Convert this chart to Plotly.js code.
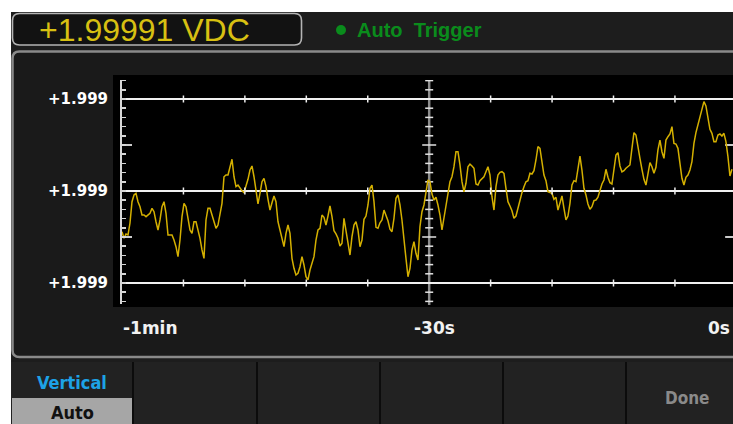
<!DOCTYPE html>
<html><head><meta charset="utf-8">
<script src="https://cdn.plot.ly/plotly-3.0.1.min.js"></script>
<style>html,body{margin:0;padding:0;background:#fff;overflow:hidden}#chart{width:733px;height:424px}</style>
</head><body><div id="chart"></div>
<script>
// ---- data ----
const readoutText = '+1.99991 VDC';
const triggerText = 'Auto\u00a0 Trigger';
const baseVolts = 1.9999;            // readings are stored as offsets above this, in microvolts
const samplePeriodS = 0.1953;        // time between stored samples
const startTimeS = -60;
const offsetMicroVolts = [
 0.58,-0.14,0.33,0.22,1.52,3.84,4.57,4.75,3.84,3.29,2.39,2.39,2.21,2.39,2.58,3.12,2.75,1.66,0.76,1.85,
 3.29,3.84,2.58,0.22,0.22,0.22,-0.33,-1.05,-2.14,-0.33,2.21,3.66,3.29,2.03,0.76,0.40,1.66,1.66,0.76,-0.14,
 -1.41,-2.32,1.85,3.12,3.12,2.39,1.66,0.95,1.30,2.39,
 3.66,6.55,6.74,6.74,7.64,8.45,6.55,5.47,5.65,5.29,5.03,4.82,5.47,6.27,7.28,7.72,6.55,4.75,3.59,4.75,
 6.01,6.38,5.47,4.10,2.93,3.73,4.46,3.84,1.66,0.76,-0.33,-1.05,0.40,1.30,0.40,-2.32,-3.40,-4.13,-3.95,-3.23,
 -2.14,-3.04,-4.32,-4.67,-3.59,-2.79,-2.14,-0.33,0.76,0.95,2.39,
 2.14,1.30,2.28,3.37,2.21,0.68,0.33,-0.14,-0.98,-0.68,2.03,0.76,-0.87,-1.96,0.03,1.30,1.66,0.76,-1.05,-0.33,
 1.92,2.28,3.48,5.29,5.65,3.84,1.05,0.95,1.55,1.85,2.93,2.39,1.77,0.84,0.58,2.03,4.21,4.57,3.48,1.85,
 -0.68,-2.32,-4.32,-3.40,-1.41,-0.51,-1.77,-2.50,1.12,2.75,3.48,
 5.11,6.20,6.01,4.67,4.02,4.32,3.48,2.39,0.76,2.21,3.48,4.75,6.01,6.55,7.64,9.27,9.27,7.83,6.01,4.92,
 5.84,7.64,7.93,7.72,7.47,5.76,5.65,6.12,6.38,6.55,7.10,7.64,6.74,4.38,2.93,5.47,6.74,7.03,7.10,6.92,
 5.29,3.84,3.37,2.86,2.03,2.28,3.12,4.02,4.82,5.47,6.01,
 6.12,6.92,6.85,7.21,8.37,9.82,9.64,8.18,6.74,6.12,4.92,4.82,4.75,4.10,4.32,2.93,3.84,4.46,3.12,1.85,
 2.28,3.66,5.65,6.12,6.01,7.64,8.80,7.28,5.29,4.57,3.59,3.01,3.29,3.95,4.02,4.32,5.11,5.76,6.20,7.36,
 6.49,5.90,5.76,7.28,8.91,9.16,7.72,7.07,7.21,7.47,7.64,7.83,
 9.64,11.34,11.09,9.64,8.55,7.36,6.27,5.65,6.92,8.08,7.64,6.92,7.58,9.46,10.54,9.27,8.55,10.54,10.90,11.20,
 11.99,10.18,10.11,9.64,8.01,6.38,5.65,6.49,6.74,7.28,8.18,10.18,11.34,12.17,12.79,13.62,14.71,14.24,13.08,11.71,
 11.27,10.36,10.36,11.09,11.20,10.98,11.27,10.36,8.73,6.63,7.36
];
const yGridOffsets = [-5, 5, 15];               // µV above baseVolts
const yTickLabels = ['+1.999', '+1.999', '+1.999'];
const yMidTickOffsets = [0, 10];
const xLabelTexts = ['-1min', '-30s', '0s'];
const gridMarkTimes = [-54, -48, -42, -36, -24, -18, -12, -6];
const softkeyTitle = 'Vertical';
const softkeyValue = 'Auto';
const doneText = 'Done';

// ---- build ----
const W = 733, H = 424;
const X = p => p / W, Y = p => 1 - p / H;
const uv = o => baseVolts + o * 1e-6;

const times = offsetMicroVolts.map((_, i) => startTimeS + i * samplePeriodS);
const volts = offsetMicroVolts.map(uv);

function roundRect(x0, y0, x1, y1, r) {
  const rx = r / W, ry = r / H;
  const a = X(x0), b = X(x1), c = Y(y0), d = Y(y1);
  return `M${a+rx},${c} L${b-rx},${c} Q${b},${c} ${b},${c-ry} L${b},${d+ry} Q${b},${d} ${b-rx},${d} ` +
         `L${a+rx},${d} Q${a},${d} ${a},${d+ry} L${a},${c-ry} Q${a},${c} ${a+rx},${c} Z`;
}
const prect = (x0, y0, x1, y1, fill) => ({type:'rect', xref:'paper', yref:'paper', layer:'below',
  x0:X(x0), x1:X(x1), y0:Y(y1), y1:Y(y0), fillcolor:fill, line:{width:0}});

const shapes = [];
shapes.push(prect(11, 12, 733, 424, '#1d1d1d'));
shapes.push({type:'path', xref:'paper', yref:'paper', layer:'below', path:roundRect(12.5, 13.5, 301.5, 45, 7),
  fillcolor:'#121212', line:{color:'#b4b4b4', width:1.6}});
shapes.push({type:'path', xref:'paper', yref:'paper', layer:'below', path:roundRect(12.5, 51.5, 745, 357, 7),
  fillcolor:'#1a1a1a', line:{color:'#8a8a8a', width:2.5}});
shapes.push(prect(113, 75, 733, 307, '#000000'));
shapes.push(prect(11, 362, 733, 424, '#222222'));
[133, 257, 380, 503, 626].forEach(x => shapes.push({type:'line', xref:'paper', yref:'paper', layer:'below',
  x0:X(x), x1:X(x), y0:Y(362), y1:0, line:{color:'#0c0c0c', width:2}}));
shapes.push(prect(12, 398, 132, 424, '#a6a6a6'));
shapes.push({type:'circle', xref:'paper', yref:'paper', layer:'below', x0:X(336), x1:X(346), y0:Y(35), y1:Y(25),
  fillcolor:'#0a8c1c', line:{width:0}});

// centre (-30 s) reference line with its ticks
shapes.push({type:'line', xref:'x', yref:'paper', layer:'below', x0:-30, x1:-30, y0:Y(305), y1:Y(80),
  line:{color:'#8c8c8c', width:2.5}});
const minorVals = [];
for (let k = -7; k <= 17; k++) minorVals.push(k);
minorVals.forEach(k => {
  const mid = yMidTickOffsets.includes(k);
  const len = mid ? 7 : 4;
  shapes.push({type:'line', xref:'x', xsizemode:'pixel', xanchor:-30, x0:-len, x1:len,
    yref:'y', y0:uv(k), y1:uv(k), layer:'below', line:{color:'#e2e2e2', width:1.5}});
});
yMidTickOffsets.forEach(k => {
  shapes.push({type:'line', xref:'x', xsizemode:'pixel', xanchor:-60, x0:0, x1:10,
    yref:'y', y0:uv(k), y1:uv(k), layer:'below', line:{color:'#e2e2e2', width:1.8}});
  shapes.push({type:'line', xref:'x', xsizemode:'pixel', xanchor:-1, x0:-1, x1:10,
    yref:'y', y0:uv(k), y1:uv(k), layer:'below', line:{color:'#e2e2e2', width:1.8}});
});
gridMarkTimes.forEach(t => yGridOffsets.forEach(g => {
  shapes.push({type:'line', xref:'x', x0:t, x1:t, yref:'y', ysizemode:'pixel', yanchor:uv(g), y0:-3.5, y1:3.5,
    layer:'above', line:{color:'#eeeeee', width:1.5}});
}));

const ann = (text, x, y, xanchor, font) => ({text, x:X(x), y:Y(y), xref:'paper', yref:'paper',
  xanchor, yanchor:'middle', showarrow:false, font});
const labelFont = {family:'DejaVu Sans', size:17, color:'#f2f2f2', weight:'bold'};
const annotations = [
  ann(readoutText, 37, 30, 'left', {family:'Liberation Sans, Arial', size:32, color:'#d8c012'}),
  ann(triggerText, 355, 30, 'left', {family:'Liberation Sans, Arial', size:20, color:'#0a8c1c', weight:'bold'}),
  ann(softkeyTitle, 72, 382, 'center', {family:'DejaVu Sans Condensed, DejaVu Sans', size:18, color:'#1da2e6', weight:'bold'}),
  ann(softkeyValue, 72, 412, 'center', {family:'DejaVu Sans Condensed, DejaVu Sans', size:18, color:'#111111', weight:'bold'}),
  ann(doneText, 687, 398, 'center', {family:'DejaVu Sans Condensed, DejaVu Sans', size:17, color:'#8a8a8a', weight:'bold'}),
  ann(xLabelTexts[0], 121, 328, 'left', labelFont),
  ann(xLabelTexts[1], 435, 328, 'center', labelFont),
  ann(xLabelTexts[2], 732, 328, 'right', labelFont)
];

const trace = {x:times, y:volts, type:'scatter', mode:'lines',
  line:{color:'#d4b000', width:1.5}, hoverinfo:'skip'};

const layout = {
  width:W, height:H, margin:{l:0, r:0, t:0, b:0, pad:0},
  paper_bgcolor:'#ffffff', plot_bgcolor:'rgba(0,0,0,0)', showlegend:false,
  xaxis:{domain:[122/W, 1], range:[-60, -0.33], showgrid:false, zeroline:false, showline:false,
    showticklabels:false, ticks:''},
  yaxis:{domain:[Y(304), Y(80)], range:[uv(-7.283), uv(17.065)], tickmode:'array',
    tickvals:yGridOffsets.map(uv), ticktext:yTickLabels, showgrid:true, gridcolor:'#f0f0f0', gridwidth:2,
    zeroline:false, showline:true, linecolor:'#d6d6d6', linewidth:2, ticks:'', ticklabelstandoff:9,
    tickfont:{family:'DejaVu Sans', size:15, color:'#ffffff', weight:'bold'},
    minor:{tickmode:'array', tickvals:minorVals.map(uv), ticks:'inside', ticklen:4, tickwidth:1.5,
      tickcolor:'#d6d6d6', showgrid:false}},
  shapes, annotations
};
Plotly.newPlot('chart', [trace], layout, {staticPlot:true, displayModeBar:false});
</script></body></html>
